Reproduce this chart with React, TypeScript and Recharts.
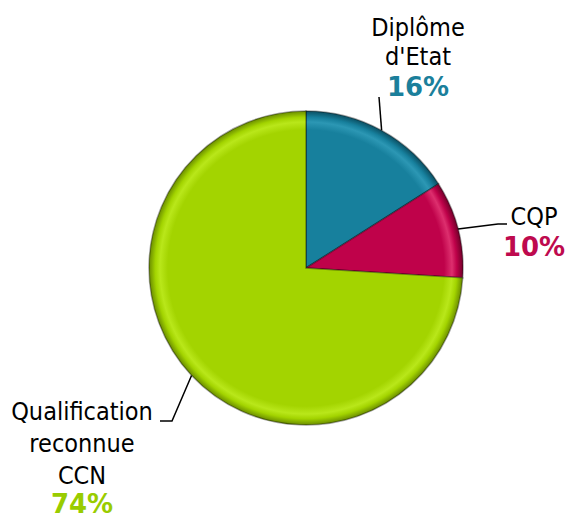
import React from 'react';
import { PieChart, Pie, Cell } from 'recharts';

const categories = ["Diplôme d'Etat", 'CQP', 'Qualification reconnue CCN'];
const shares = [16, 10, 74];
const labelLines = [['Diplôme', "d'Etat"], ['CQP'], ['Qualification', 'reconnue', 'CCN']];

const sliceColors = ['#17809D', '#BF024A', '#A3D400'];
const rimColors = [
  { light: '#2C97B4', dark: '#0B4E61' },
  { light: '#DD2F6E', dark: '#72002A' },
  { light: '#B9E71A', dark: '#6A8C00' },
];
const pctColors = ['#1B7F9B', '#BE0A4E', '#99CC00'];

// hand placed label blocks (text centre, baselines, leader bends)
const labelLayout = [
  { x: 418, lines: [36, 65], pct: 96, leader: [[379, 97]] },
  { x: 534, lines: [225], pct: 256, leader: [[498, 224], [507, 224]] },
  { x: 82, lines: [420, 452, 484], pct: 513, leader: [[172, 421], [160, 421]] },
];

const CX = 306;
const CY = 268;
const R = 157;
const RAD = Math.PI / 180;

const data = categories.map((name, i) => ({ name, value: shares[i] }));

const renderLabel = (props: any) => {
  const { cx, cy, midAngle, outerRadius, index } = props;
  const lay = labelLayout[index];
  const sx = cx + outerRadius * Math.cos(-midAngle * RAD);
  const sy = cy + outerRadius * Math.sin(-midAngle * RAD);
  const pts = [[sx, sy], ...lay.leader].map((p) => p.join(',')).join(' ');
  return (
    <g key={`lbl-${index}`}>
      <polyline points={pts} fill="none" stroke="#000" strokeWidth={1.5} />
      {labelLines[index].map((t, j) => (
        <text
          key={j}
          x={lay.x}
          y={lay.lines[j]}
          textAnchor="middle"
          fontFamily="'DejaVu Sans Condensed', 'DejaVu Sans', sans-serif"
          fontSize={25}
          fill="#000"
        >
          {t}
        </text>
      ))}
      <text
        x={lay.x}
        y={lay.pct}
        textAnchor="middle"
        fontFamily="'DejaVu Sans', sans-serif"
        fontWeight="bold"
        fontSize={26}
        fill={pctColors[index]}
      >
        {shares[index]}%
      </text>
    </g>
  );
};

export default function App() {
  return (
    <div style={{ position: 'absolute', left: 0, top: 0, width: 568, height: 520, background: '#fff' }}>
      <svg width={0} height={0} style={{ position: 'absolute' }}>
        <defs>
          {sliceColors.map((c, i) => (
            <radialGradient
              key={i}
              id={`rim${i}`}
              gradientUnits="userSpaceOnUse"
              cx={CX}
              cy={CY}
              r={R}
            >
              <stop offset="0" stopColor={c} />
              <stop offset="0.88" stopColor={c} />
              <stop offset="0.93" stopColor={rimColors[i].light} />
              <stop offset="0.96" stopColor={c} />
              <stop offset="1" stopColor={rimColors[i].dark} />
            </radialGradient>
          ))}
        </defs>
      </svg>
      <PieChart width={568} height={520} margin={{ top: 0, right: 0, bottom: 0, left: 0 }}>
        <Pie
          data={data}
          dataKey="value"
          nameKey="name"
          cx={CX}
          cy={CY}
          outerRadius={R}
          startAngle={90}
          endAngle={-270}
          stroke="rgba(0,0,0,0.35)"
          strokeWidth={1.5}
          label={renderLabel}
          labelLine={false}
          isAnimationActive={false}
        >
          {data.map((d, i) => (
            <Cell key={d.name} fill={`url(#rim${i})`} />
          ))}
        </Pie>
      </PieChart>
    </div>
  );
}
